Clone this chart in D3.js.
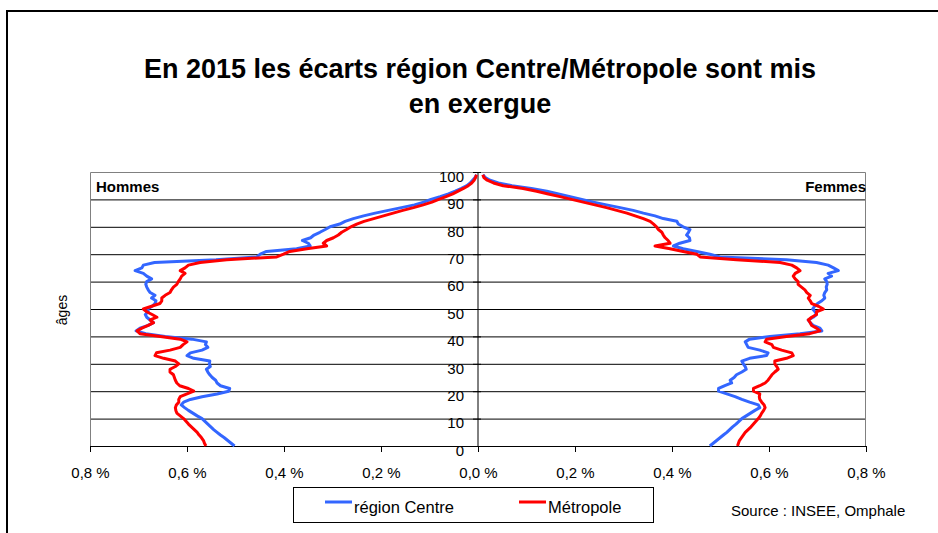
<!DOCTYPE html>
<html lang="fr">
<head>
    <meta charset="UTF-8">
    <title>Pyramide des âges région Centre / Métropole 2015</title>
    <script src="https://d3js.org/d3.v7.min.js"></script>
    <style>
        body { margin: 0; background: #fff; }
        svg { display: block; font-family: "Liberation Sans", Arial, sans-serif; }
        .grid { stroke: #000; stroke-width: 1px; }
        .axis path, .axis line { stroke: #000; }
        .axis text { font-size: 15px; fill: #000; }
    </style>
</head>
<body>
    <svg id="chart" width="938" height="533"></svg>

    <script>
        // ages 0 to 99
        const ages = d3.range(0, 100);

        // share of the population (in %) at each age
        const hommesCentre = [
            0.502, 0.509, 0.516, 0.523, 0.531, 0.538, 0.545, 0.551, 0.557, 0.563,
            0.569, 0.579, 0.588, 0.597, 0.605, 0.612, 0.607, 0.593, 0.569, 0.538,
            0.514, 0.512, 0.531, 0.538, 0.541, 0.548, 0.553, 0.557, 0.560, 0.552,
            0.554, 0.553, 0.586, 0.600, 0.593, 0.569, 0.557, 0.562, 0.560, 0.590,
            0.645, 0.685, 0.705, 0.697, 0.680, 0.669, 0.676, 0.683, 0.686, 0.680,
            0.681, 0.672, 0.666, 0.664, 0.673, 0.666, 0.676, 0.680, 0.683, 0.685,
            0.683, 0.673, 0.683, 0.690, 0.707, 0.693, 0.690, 0.667, 0.540, 0.456,
            0.449, 0.436, 0.374, 0.346, 0.350, 0.362, 0.345, 0.338, 0.326, 0.315,
            0.305, 0.285, 0.274, 0.257, 0.236, 0.212, 0.185, 0.158, 0.131, 0.112,
            0.097, 0.078, 0.061, 0.047, 0.034, 0.023, 0.016, 0.011, 0.006, 0.003
        ];
        const hommesMetropole = [
            0.561, 0.564, 0.566, 0.570, 0.575, 0.579, 0.585, 0.591, 0.597, 0.602,
            0.607, 0.614, 0.621, 0.623, 0.624, 0.622, 0.617, 0.617, 0.614, 0.600,
            0.586, 0.597, 0.615, 0.621, 0.624, 0.626, 0.628, 0.635, 0.635, 0.624,
            0.617, 0.624, 0.648, 0.666, 0.663, 0.635, 0.614, 0.608, 0.600, 0.614,
            0.655, 0.697, 0.703, 0.693, 0.680, 0.669, 0.676, 0.662, 0.672, 0.683,
            0.690, 0.673, 0.656, 0.652, 0.652, 0.645, 0.635, 0.632, 0.628, 0.621,
            0.618, 0.614, 0.611, 0.604, 0.614, 0.604, 0.597, 0.573, 0.518, 0.415,
            0.401, 0.388, 0.353, 0.312, 0.319, 0.312, 0.298, 0.288, 0.281, 0.271,
            0.262, 0.250, 0.235, 0.215, 0.195, 0.175, 0.155, 0.133, 0.113, 0.095,
            0.081, 0.066, 0.052, 0.041, 0.030, 0.020, 0.013, 0.008, 0.005, 0.003
        ];
        const femmesCentre = [
            0.478, 0.485, 0.492, 0.499, 0.506, 0.513, 0.519, 0.525, 0.532, 0.538,
            0.544, 0.553, 0.562, 0.571, 0.581, 0.578, 0.560, 0.544, 0.530, 0.513,
            0.496, 0.496, 0.509, 0.523, 0.520, 0.528, 0.533, 0.544, 0.553, 0.551,
            0.547, 0.544, 0.560, 0.595, 0.598, 0.581, 0.557, 0.554, 0.551, 0.560,
            0.602, 0.664, 0.709, 0.705, 0.691, 0.685, 0.681, 0.691, 0.698, 0.695,
            0.690, 0.694, 0.700, 0.709, 0.715, 0.713, 0.715, 0.719, 0.718, 0.720,
            0.719, 0.715, 0.729, 0.722, 0.743, 0.733, 0.722, 0.698, 0.636, 0.499,
            0.478, 0.451, 0.423, 0.403, 0.416, 0.437, 0.436, 0.430, 0.434, 0.437,
            0.423, 0.413, 0.410, 0.382, 0.365, 0.341, 0.320, 0.293, 0.265, 0.238,
            0.214, 0.190, 0.166, 0.142, 0.110, 0.070, 0.042, 0.025, 0.015, 0.010
        ];
        const femmesMetropole = [
            0.535, 0.537, 0.539, 0.543, 0.547, 0.551, 0.557, 0.563, 0.568, 0.573,
            0.578, 0.582, 0.585, 0.589, 0.592, 0.590, 0.585, 0.581, 0.580, 0.581,
            0.568, 0.568, 0.581, 0.592, 0.598, 0.602, 0.606, 0.612, 0.619, 0.616,
            0.612, 0.612, 0.636, 0.650, 0.647, 0.626, 0.609, 0.606, 0.592, 0.595,
            0.636, 0.684, 0.705, 0.698, 0.688, 0.685, 0.681, 0.688, 0.698, 0.698,
            0.712, 0.702, 0.688, 0.685, 0.681, 0.685, 0.678, 0.674, 0.667, 0.660,
            0.660, 0.654, 0.650, 0.654, 0.664, 0.657, 0.647, 0.623, 0.533, 0.458,
            0.451, 0.423, 0.396, 0.365, 0.396, 0.392, 0.386, 0.382, 0.379, 0.372,
            0.368, 0.362, 0.355, 0.341, 0.324, 0.307, 0.286, 0.265, 0.241, 0.217,
            0.193, 0.169, 0.145, 0.121, 0.093, 0.052, 0.032, 0.019, 0.012, 0.010
        ];

        const xTicks = [0, 0.2, 0.4, 0.6, 0.8];
        const yTicks = d3.range(0, 101, 10);
        const series = [
            { name: "région Centre", color: "#3366ff", hommes: hommesCentre, femmes: femmesCentre },
            { name: "Métropole", color: "#ff0000", hommes: hommesMetropole, femmes: femmesMetropole }
        ];
        const titleLines = ["En 2015 les écarts région Centre/Métropole sont mis", "en exergue"];

        const svg = d3.select("#chart");

        // plot area
        const LEFT = 90, RIGHT = 866, TOP = 172, BOTTOM = 446, MID = 478;

        const xMen = d3.scaleLinear().domain([0.8, 0]).range([LEFT, MID]);
        const xWomen = d3.scaleLinear().domain([0, 0.8]).range([MID, RIGHT]);
        const y = d3.scaleLinear().domain([0, 100]).range([BOTTOM, TOP]);

        const fmt = d => d3.format(".1f")(d).replace(".", ",") + " %";

        // outer frame
        svg.append("rect")
            .attr("x", 7).attr("y", 11)
            .attr("width", 1000).attr("height", 600)
            .attr("fill", "none")
            .attr("stroke", "#000")
            .attr("stroke-width", 2);

        // title
        svg.append("text")
            .attr("font-size", 27)
            .attr("font-weight", "bold")
            .attr("text-anchor", "middle")
            .selectAll("tspan")
            .data(titleLines)
            .join("tspan")
            .attr("x", 480)
            .attr("y", (d, i) => 78 + i * 35)
            .text(d => d);

        // horizontal grid lines
        svg.append("g")
            .selectAll("line")
            .data(yTicks.filter(d => d > 0 && d < 100))
            .join("line")
            .attr("class", "grid")
            .attr("x1", LEFT).attr("x2", RIGHT)
            .attr("y1", d => y(d) + 0.5).attr("y2", d => y(d) + 0.5);

        // plot border (grey)
        svg.append("path")
            .attr("d", `M${LEFT + 0.5},${BOTTOM}V${TOP + 0.5}H${RIGHT - 0.5}V${BOTTOM}`)
            .attr("fill", "none")
            .attr("stroke", "#808080");

        // bottom axes
        svg.append("g")
            .attr("class", "axis")
            .attr("transform", `translate(0,${BOTTOM})`)
            .call(d3.axisBottom(xMen).tickValues(xTicks).tickFormat(fmt).tickSize(6).tickPadding(15));
        svg.append("g")
            .attr("class", "axis")
            .attr("transform", `translate(0,${BOTTOM})`)
            .call(d3.axisBottom(xWomen).tickValues(xTicks.slice(1)).tickFormat(fmt).tickSize(6).tickPadding(15));

        // centre age axis
        const yAxis = svg.append("g")
            .attr("class", "axis")
            .attr("transform", `translate(${MID},0)`)
            .call(d3.axisLeft(y).tickValues(yTicks).tickSize(5).tickPadding(9));
        yAxis.select(".domain").attr("d", `M0,${TOP}V${BOTTOM}`);
        yAxis.selectAll(".tick line").attr("x2", -5).attr("x1", 3);
        yAxis.selectAll(".tick text").attr("dy", "0.62em");

        // lines
        const lineMen = d3.line().x(d => xMen(d[1])).y(d => y(d[0]));
        const lineWomen = d3.line().x(d => xWomen(d[1])).y(d => y(d[0]));

        series.forEach(s => {
            svg.append("path")
                .datum(ages.map((a, i) => [a, s.hommes[i]]))
                .attr("d", lineMen)
                .attr("fill", "none")
                .attr("stroke", s.color)
                .attr("stroke-width", 3)
                .attr("stroke-linejoin", "round");
            svg.append("path")
                .datum(ages.map((a, i) => [a, s.femmes[i]]))
                .attr("d", lineWomen)
                .attr("fill", "none")
                .attr("stroke", s.color)
                .attr("stroke-width", 3)
                .attr("stroke-linejoin", "round");
        });

        // side labels
        svg.append("text")
            .attr("x", 96).attr("y", 192)
            .attr("font-size", 15).attr("font-weight", "bold")
            .text("Hommes");
        svg.append("text")
            .attr("x", RIGHT).attr("y", 192)
            .attr("font-size", 15).attr("font-weight", "bold")
            .attr("text-anchor", "end")
            .text("Femmes");

        // y title
        svg.append("text")
            .attr("transform", "translate(67,310) rotate(-90)")
            .attr("font-size", 14)
            .attr("text-anchor", "middle")
            .text("âges");

        // legend
        svg.append("rect")
            .attr("x", 293.5).attr("y", 487.5)
            .attr("width", 360).attr("height", 35)
            .attr("fill", "#fff")
            .attr("stroke", "#000");

        const legendX = [325, 519];
        const legend = svg.append("g")
            .selectAll("g")
            .data(series)
            .join("g")
            .attr("transform", (d, i) => `translate(${legendX[i]},502)`);
        legend.append("line")
            .attr("x1", 0).attr("x2", 27)
            .attr("stroke", d => d.color)
            .attr("stroke-width", 3);
        legend.append("text")
            .attr("x", 29).attr("y", 11)
            .attr("font-size", 16.5)
            .text(d => d.name);

        // source
        svg.append("text")
            .attr("x", 731).attr("y", 516)
            .attr("font-size", 15)
            .text("Source : INSEE, Omphale");
    </script>
</body>
</html>
